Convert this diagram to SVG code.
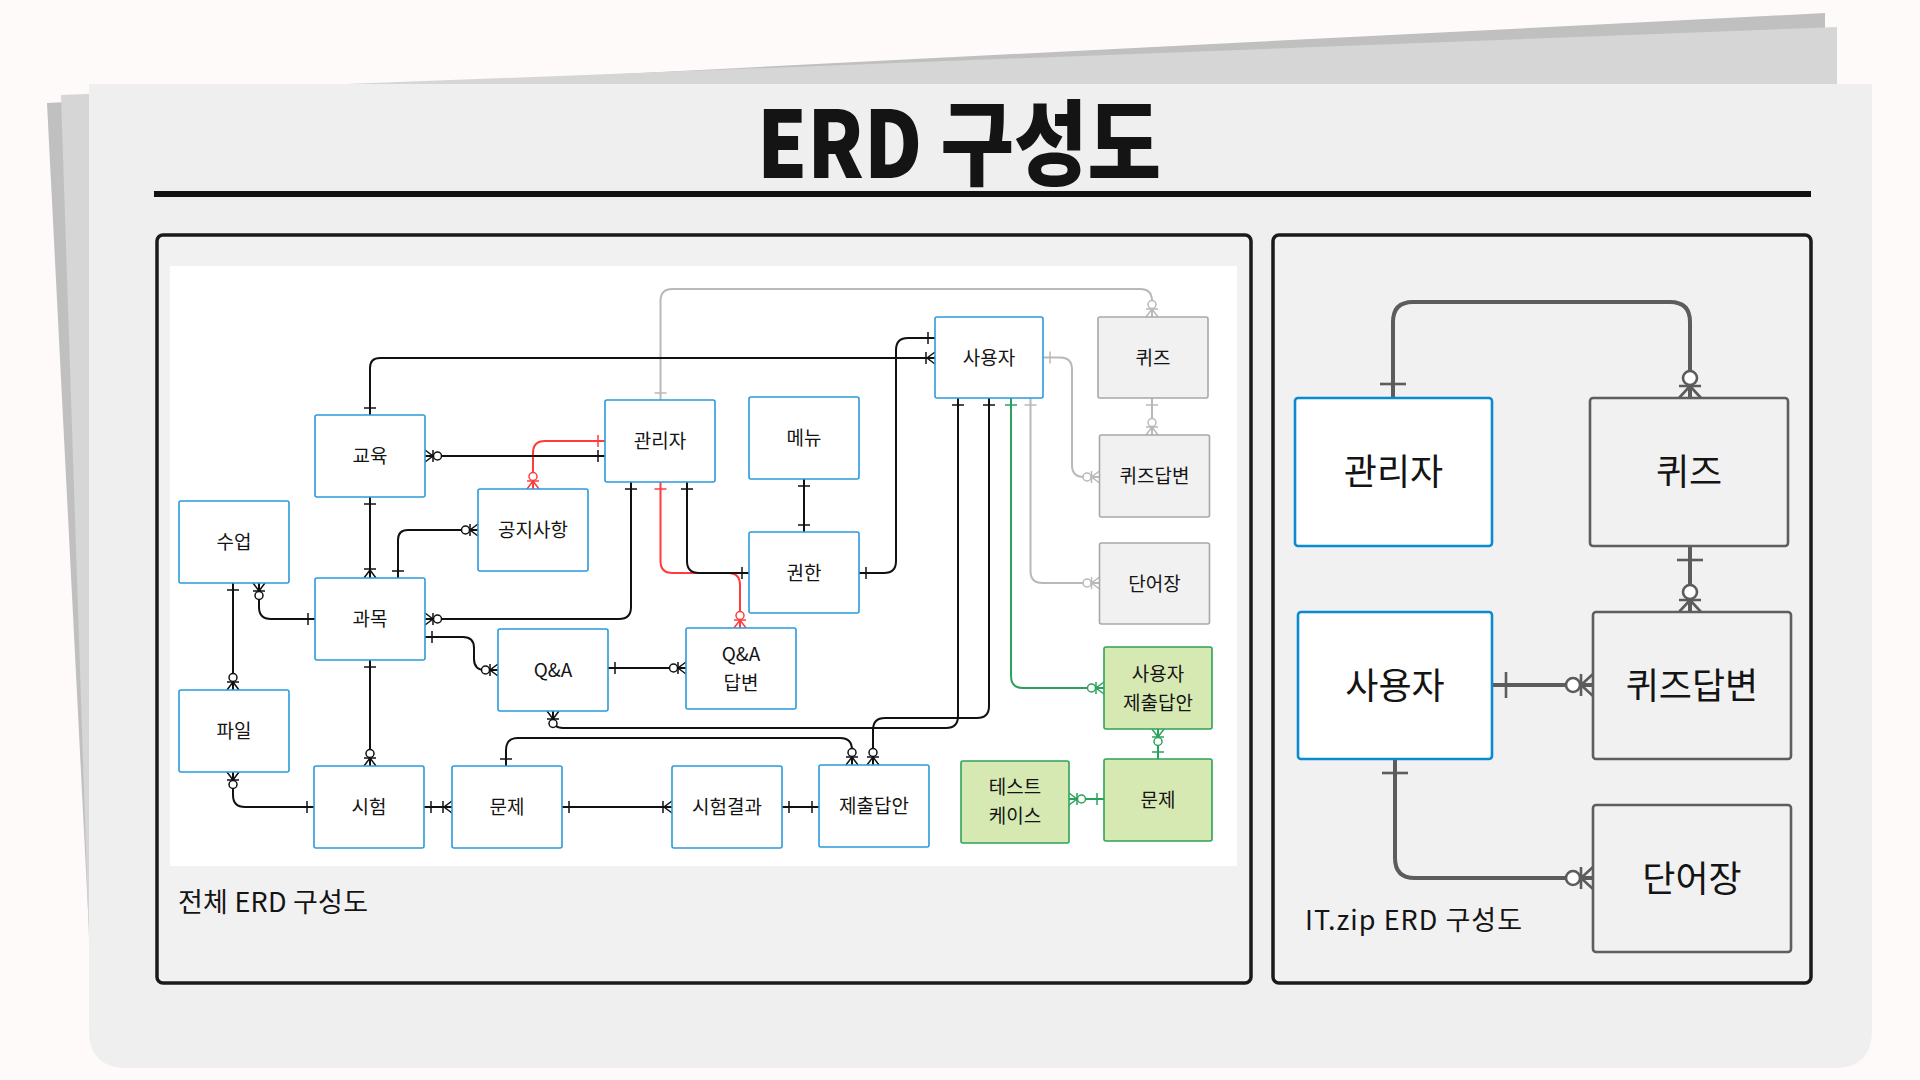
<svg xmlns="http://www.w3.org/2000/svg" width="1920" height="1080" viewBox="0 0 1920 1080">
<style>
text{font-family:"Noto Sans CJK KR","Noto Sans",sans-serif;fill:#141414}
.t{font-size:19px;text-anchor:middle}
.tb{font-size:36px;text-anchor:middle}
.cap{font-size:27px}
.bx{fill:#fff;stroke:#2A9BDC;stroke-width:1.6}
.gx{fill:#F1F1F1;stroke:#A8A8A8;stroke-width:1.6}
.nx{fill:#D7E9B3;stroke:#2EA35A;stroke-width:1.6}
.bbx{fill:#fff;stroke:#0A8AD0;stroke-width:2.6}
.dbx{fill:#F1F1F1;stroke:#5E5E5E;stroke-width:2.6}
.ln{fill:none;stroke-width:2}
.k{stroke:#111}.r{stroke:#FF3B3B}.g{stroke:#B9B9B9}.n{stroke:#2BA25B}
.d{fill:none;stroke:#5C5C5C;stroke-width:4}
.m{fill:none;stroke-width:1.5}
.mc{fill:#fff;stroke-width:1.5}
.md{fill:none;stroke:#5C5C5C;stroke-width:2.6}
.mdc{fill:#fff;stroke:#5C5C5C;stroke-width:2.6}
</style>
<defs>
<marker id="kOne" markerUnits="userSpaceOnUse" orient="auto-start-reverse" overflow="visible" markerWidth="1" markerHeight="1"><path class="m k" d="M-7,-6V6"/></marker>
<marker id="kZM" markerUnits="userSpaceOnUse" orient="auto-start-reverse" overflow="visible" markerWidth="1" markerHeight="1"><path class="m k" d="M0,-6L-8,0L0,6M-8,-6V6"/><circle class="mc k" cx="-12.5" cy="0" r="4"/></marker>
<marker id="kOM" markerUnits="userSpaceOnUse" orient="auto-start-reverse" overflow="visible" markerWidth="1" markerHeight="1"><path class="m k" d="M0,-6L-8,0L0,6M-9,-6V6"/></marker>
<marker id="rOne" markerUnits="userSpaceOnUse" orient="auto-start-reverse" overflow="visible" markerWidth="1" markerHeight="1"><path class="m r" d="M-7,-6V6"/></marker>
<marker id="rZM" markerUnits="userSpaceOnUse" orient="auto-start-reverse" overflow="visible" markerWidth="1" markerHeight="1"><path class="m r" d="M0,-6L-8,0L0,6M-8,-6V6"/><circle class="mc r" cx="-12.5" cy="0" r="4"/></marker>
<marker id="gOne" markerUnits="userSpaceOnUse" orient="auto-start-reverse" overflow="visible" markerWidth="1" markerHeight="1"><path class="m g" d="M-7,-6V6"/></marker>
<marker id="gZM" markerUnits="userSpaceOnUse" orient="auto-start-reverse" overflow="visible" markerWidth="1" markerHeight="1"><path class="m g" d="M0,-6L-8,0L0,6M-8,-6V6"/><circle class="mc g" cx="-12.5" cy="0" r="4"/></marker>
<marker id="nOne" markerUnits="userSpaceOnUse" orient="auto-start-reverse" overflow="visible" markerWidth="1" markerHeight="1"><path class="m n" d="M-7,-6V6"/></marker>
<marker id="nZM" markerUnits="userSpaceOnUse" orient="auto-start-reverse" overflow="visible" markerWidth="1" markerHeight="1"><path class="m n" d="M0,-6L-8,0L0,6M-8,-6V6"/><circle class="mc n" cx="-12.5" cy="0" r="4"/></marker>
<marker id="dOne" markerUnits="userSpaceOnUse" orient="auto-start-reverse" overflow="visible" markerWidth="1" markerHeight="1"><path class="md" d="M-14,-13V13"/></marker>
<marker id="dZM" markerUnits="userSpaceOnUse" orient="auto-start-reverse" overflow="visible" markerWidth="1" markerHeight="1"><path class="md" d="M0,-11L-12,0L0,11M-12,-11V11"/><circle class="mdc" cx="-20" cy="0" r="7"/></marker>
</defs>

<rect x="0" y="0" width="1920" height="1080" fill="#FEFAF9"/>
<g id="sheets">
<polygon points="47,103 1825,13 1825,300 89,930" fill="#C0C0C0"/>
<polygon points="61,95 1837,27 1837,300 89,940" fill="#D6D6D6"/>
<path d="M89,84H1872V1030Q1872,1068 1834,1068H127Q89,1068 89,1030Z" fill="#EFEFEF"/>
</g>

<g id="title">
<text x="959" y="178" font-size="93" font-weight="900" text-anchor="middle" textLength="404" lengthAdjust="spacingAndGlyphs">ERD 구성도</text>
<rect x="154" y="191" width="1657" height="6" fill="#111"/>
</g>

<g id="panels">
<rect x="157" y="235" width="1094" height="748" rx="6" fill="#F1F1F1" stroke="#1A1A1A" stroke-width="3.5"/>
<rect x="1273" y="235" width="538" height="748" rx="6" fill="#F1F1F1" stroke="#1A1A1A" stroke-width="3.5"/>
<rect x="170" y="266" width="1067" height="600" fill="#fff"/>
<text class="cap" x="178" y="912" textLength="190">전체 ERD 구성도</text>
<text class="cap" x="1305" y="930" textLength="217">IT.zip ERD 구성도</text>
</g>

<g id="connectors">
<path class="ln r" d="M605,441H545Q533,441 533,453V489" marker-start="url(#rOne)" marker-end="url(#rZM)"/>
<path class="ln r" d="M660.5,482V561Q660.5,573 672.5,573H728Q740,573 740,585V628" marker-start="url(#rOne)" marker-end="url(#rZM)"/>
<path class="ln g" d="M660.5,400V301Q660.5,289 672.5,289H1140Q1152,289 1152,301V317" marker-start="url(#gOne)" marker-end="url(#gZM)"/>
<path class="ln g" d="M1043,357.5H1060Q1072,357.5 1072,369.5V465Q1072,477 1084,477H1099.5" marker-start="url(#gOne)" marker-end="url(#gZM)"/>
<path class="ln g" d="M1152,398V435" marker-start="url(#gOne)" marker-end="url(#gZM)"/>
<path class="ln g" d="M1030.5,398V571Q1030.5,583 1042.5,583H1099.5" marker-start="url(#gOne)" marker-end="url(#gZM)"/>
<path class="ln n" d="M1011,398V676Q1011,688 1023,688H1104" marker-start="url(#nOne)" marker-end="url(#nZM)"/>
<path class="ln n" d="M1158,729V759" marker-start="url(#nZM)" marker-end="url(#nOne)"/>
<path class="ln n" d="M1069,799H1104" marker-start="url(#nZM)" marker-end="url(#nOne)"/>
<path class="ln k" d="M370,415V368Q370,358 380,358H935" marker-start="url(#kOne)" marker-end="url(#kOM)"/>
<path class="ln k" d="M605,456H425" marker-start="url(#kOne)" marker-end="url(#kZM)"/>
<path class="ln k" d="M398,578V540Q398,530 408,530H478" marker-start="url(#kOne)" marker-end="url(#kZM)"/>
<path class="ln k" d="M370,497V578" marker-start="url(#kOne)" marker-end="url(#kOM)"/>
<path class="ln k" d="M631,482V607Q631,619 619,619H425" marker-start="url(#kOne)" marker-end="url(#kZM)"/>
<path class="ln k" d="M687,482V561Q687,573 699,573H749" marker-start="url(#kOne)" marker-end="url(#kOne)"/>
<path class="ln k" d="M804,479V532" marker-start="url(#kOne)" marker-end="url(#kOne)"/>
<path class="k" d="M792,533.5H817" stroke-width="3"/>
<path class="ln k" d="M859,573H884Q896,573 896,561V350Q896,338 908,338H935" marker-start="url(#kOne)" marker-end="url(#kOne)"/>
<path class="ln k" d="M233,583V690" marker-start="url(#kOne)" marker-end="url(#kZM)"/>
<path class="ln k" d="M259,583V607Q259,619 271,619H315" marker-start="url(#kZM)" marker-end="url(#kOne)"/>
<path class="ln k" d="M425,637H463Q474,637 474,648V659Q474,670 485,670H498" marker-start="url(#kOne)" marker-end="url(#kZM)"/>
<path class="ln k" d="M608,668H686" marker-start="url(#kOne)" marker-end="url(#kZM)"/>
<path class="ln k" d="M553,711V718Q553,728 563,728H946Q958,728 958,716V398" marker-start="url(#kZM)" marker-end="url(#kOne)"/>
<path class="ln k" d="M370,660V766" marker-start="url(#kOne)" marker-end="url(#kZM)"/>
<path class="ln k" d="M233,772V795Q233,807 245,807H314" marker-start="url(#kZM)" marker-end="url(#kOne)"/>
<path class="ln k" d="M424,807H452" marker-start="url(#kOne)" marker-end="url(#kOM)"/>
<path class="ln k" d="M562,807H672" marker-start="url(#kOne)" marker-end="url(#kOM)"/>
<path class="ln k" d="M782,807H819" marker-start="url(#kOne)" marker-end="url(#kOne)"/>
<path class="ln k" d="M506,766V750Q506,738 518,738H840Q852,738 852,750V765" marker-start="url(#kOne)" marker-end="url(#kZM)"/>
<path class="ln k" d="M989,398V706Q989,718 977,718H885Q873,718 873,730V765" marker-start="url(#kOne)" marker-end="url(#kZM)"/>
<path class="d" d="M1393,398V322Q1393,302 1413,302H1670Q1690,302 1690,322V398" marker-start="url(#dOne)" marker-end="url(#dZM)"/>
<path class="d" d="M1690,546V612" marker-start="url(#dOne)" marker-end="url(#dZM)"/>
<path class="d" d="M1492,685H1593" marker-start="url(#dOne)" marker-end="url(#dZM)"/>
<path class="d" d="M1395,759V858Q1395,878 1415,878H1593" marker-start="url(#dOne)" marker-end="url(#dZM)"/>
</g>

<g id="n-edu"><rect class="bx" x="315" y="415" width="110" height="82" rx="2"/><text class="t" x="370" y="463">교육</text></g>
<g id="n-class"><rect class="bx" x="179" y="501" width="110" height="82" rx="2"/><text class="t" x="234" y="549">수업</text></g>
<g id="n-notice"><rect class="bx" x="478" y="489" width="110" height="82" rx="2"/><text class="t" x="533" y="537">공지사항</text></g>
<g id="n-admin"><rect class="bx" x="605" y="400" width="110" height="82" rx="2"/><text class="t" x="660" y="448">관리자</text></g>
<g id="n-menu"><rect class="bx" x="749" y="397" width="110" height="82" rx="2"/><text class="t" x="804" y="445">메뉴</text></g>
<g id="n-auth"><rect class="bx" x="749" y="532" width="110" height="81" rx="2"/><text class="t" x="804" y="579.5">권한</text></g>
<g id="n-user"><rect class="bx" x="935" y="317" width="108" height="81" rx="2"/><text class="t" x="989" y="364.5">사용자</text></g>
<g id="n-quiz"><rect class="gx" x="1098" y="317" width="110" height="81" rx="2"/><text class="t" x="1153" y="364.5">퀴즈</text></g>
<g id="n-quizans"><rect class="gx" x="1099.5" y="435" width="110" height="82" rx="2"/><text class="t" x="1154.5" y="483">퀴즈답변</text></g>
<g id="n-voca"><rect class="gx" x="1099.5" y="543" width="110" height="81" rx="2"/><text class="t" x="1154.5" y="590.5">단어장</text></g>
<g id="n-subject"><rect class="bx" x="315" y="578" width="110" height="82" rx="2"/><text class="t" x="370" y="626">과목</text></g>
<g id="n-qna"><rect class="bx" x="498" y="629" width="110" height="82" rx="2"/><text class="t" x="553" y="677">Q&amp;A</text></g>
<g id="n-qnaans"><rect class="bx" x="686" y="628" width="110" height="81" rx="2"/><text class="t" x="741" y="661">Q&amp;A</text><text class="t" x="741" y="690">답변</text></g>
<g id="n-usersub"><rect class="nx" x="1104" y="647" width="108" height="82" rx="2"/><text class="t" x="1158" y="681">사용자</text><text class="t" x="1158" y="710">제출답안</text></g>
<g id="n-file"><rect class="bx" x="179" y="690" width="110" height="82" rx="2"/><text class="t" x="234" y="738">파일</text></g>
<g id="n-exam"><rect class="bx" x="314" y="766" width="110" height="82" rx="2"/><text class="t" x="369" y="814">시험</text></g>
<g id="n-problem"><rect class="bx" x="452" y="766" width="110" height="82" rx="2"/><text class="t" x="507" y="814">문제</text></g>
<g id="n-result"><rect class="bx" x="672" y="766" width="110" height="82" rx="2"/><text class="t" x="727" y="814">시험결과</text></g>
<g id="n-submit"><rect class="bx" x="819" y="765" width="110" height="82" rx="2"/><text class="t" x="874" y="813">제출답안</text></g>
<g id="n-testcase"><rect class="nx" x="961" y="761" width="108" height="82" rx="2"/><text class="t" x="1015" y="793.5">테스트</text><text class="t" x="1015" y="823">케이스</text></g>
<g id="n-problem2"><rect class="nx" x="1104" y="759" width="108" height="82" rx="2"/><text class="t" x="1158" y="807">문제</text></g>

<g id="r-admin"><rect class="bbx" x="1295" y="398" width="197" height="148" rx="3"/><text class="tb" x="1393.5" y="485">관리자</text></g>
<g id="r-quiz"><rect class="dbx" x="1590" y="398" width="198" height="148" rx="3"/><text class="tb" x="1689" y="485">퀴즈</text></g>
<g id="r-user"><rect class="bbx" x="1298" y="612" width="194" height="147" rx="3"/><text class="tb" x="1395" y="698.5">사용자</text></g>
<g id="r-quizans"><rect class="dbx" x="1593" y="612" width="198" height="147" rx="3"/><text class="tb" x="1692" y="698.5">퀴즈답변</text></g>
<g id="r-voca"><rect class="dbx" x="1593" y="805" width="198" height="147" rx="3"/><text class="tb" x="1692" y="891.5">단어장</text></g>
</svg>
